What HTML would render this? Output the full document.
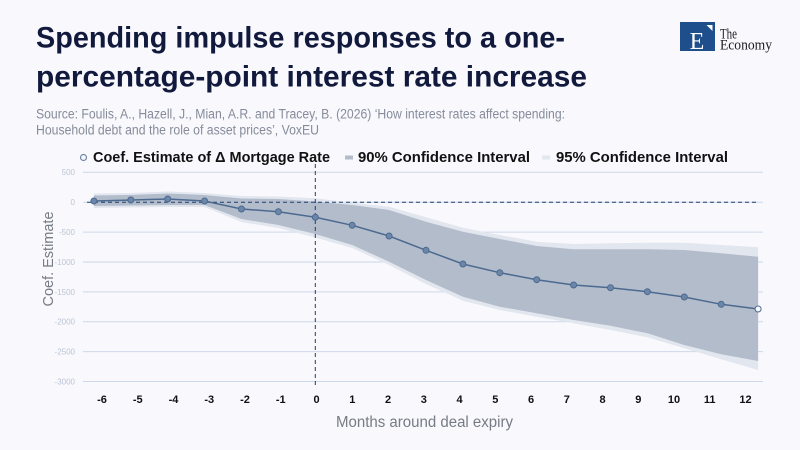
<!DOCTYPE html>
<html>
<head>
<meta charset="utf-8">
<style>
  html,body{margin:0;padding:0;background:#f8f8fd;}
  svg{display:block;}
  text{font-family:"Liberation Sans", sans-serif;}
</style>
</head>
<body>
<svg width="800" height="450" viewBox="0 0 800 450" xmlns="http://www.w3.org/2000/svg">
  <rect x="0" y="0" width="800" height="450" fill="#f8f8fd"/>

  <!-- Title -->
  <text x="36" y="47.5" font-size="30" font-weight="bold" fill="#111a3d" textLength="529" lengthAdjust="spacingAndGlyphs">Spending impulse responses to a one-</text>
  <text x="36" y="86.5" font-size="30" font-weight="bold" fill="#111a3d" textLength="551" lengthAdjust="spacingAndGlyphs">percentage-point interest rate increase</text>

  <!-- Source -->
  <text x="36" y="118.5" font-size="13.5" fill="#868c9a" textLength="529" lengthAdjust="spacingAndGlyphs">Source: Foulis, A., Hazell, J., Mian, A.R. and Tracey, B. (2026) ‘How interest rates affect spending:</text>
  <text x="36" y="134.5" font-size="13.5" fill="#868c9a" textLength="283" lengthAdjust="spacingAndGlyphs">Household debt and the role of asset prices’, VoxEU</text>

  <!-- Logo -->
  <rect x="680" y="22" width="35" height="29" fill="#1f4e8c"/>
  <polygon points="706.5,25 712.5,25 712.5,31" fill="#ffffff"/>
  <text x="697" y="49" font-size="24" fill="#ffffff" text-anchor="middle" style="font-family:'Liberation Serif',serif;">E</text>
  <text x="720" y="38.3" font-size="15" fill="#1e1e1e" style="font-family:'Liberation Serif',serif;" textLength="17" lengthAdjust="spacingAndGlyphs">The</text>
  <text x="720" y="49.3" font-size="15" fill="#1e1e1e" style="font-family:'Liberation Serif',serif;" textLength="52" lengthAdjust="spacingAndGlyphs">Economy</text>

  <!-- Legend -->
  <circle cx="83.5" cy="157.5" r="3" fill="#f8f8fd" stroke="#6f86a6" stroke-width="1.2"/>
  <text x="93" y="162" font-size="15" font-weight="bold" fill="#111" textLength="237" lengthAdjust="spacingAndGlyphs">Coef. Estimate of Δ Mortgage Rate</text>
  <rect x="345" y="155.5" width="8" height="4" fill="#b3bccb"/>
  <text x="358" y="162" font-size="15" font-weight="bold" fill="#111" textLength="172" lengthAdjust="spacingAndGlyphs">90% Confidence Interval</text>
  <rect x="542" y="155.5" width="8" height="4" fill="#e2e6ee"/>
  <text x="556" y="162" font-size="15" font-weight="bold" fill="#111" textLength="172" lengthAdjust="spacingAndGlyphs">95% Confidence Interval</text>

  <!-- Grid lines -->
  <g stroke="#cdd8e8" stroke-width="1">
    <line x1="83" y1="172.3" x2="763" y2="172.3"/>
    <line x1="83" y1="202.2" x2="763" y2="202.2"/>
    <line x1="83" y1="232.1" x2="763" y2="232.1"/>
    <line x1="83" y1="262" x2="763" y2="262"/>
    <line x1="83" y1="291.9" x2="763" y2="291.9"/>
    <line x1="83" y1="321.7" x2="763" y2="321.7"/>
    <line x1="83" y1="351.6" x2="763" y2="351.6"/>
    <line x1="83" y1="381.5" x2="763" y2="381.5"/>
  </g>

  <!-- Y tick labels -->
  <g font-size="8" fill="#bcc5d4" text-anchor="end">
    <text x="75" y="175">500</text>
    <text x="75" y="205">0</text>
    <text x="75" y="235">-500</text>
    <text x="75" y="265">-1000</text>
    <text x="75" y="295">-1500</text>
    <text x="75" y="324.5">-2000</text>
    <text x="75" y="354.5">-2500</text>
    <text x="75" y="384.5">-3000</text>
  </g>

  <!-- Y axis title -->
  <text transform="translate(53,259) rotate(-90)" font-size="15" fill="#777b84" text-anchor="middle" textLength="95" lengthAdjust="spacingAndGlyphs">Coef. Estimate</text>

  <!-- 95% band -->
  <polygon fill="#e2e6ee" points="
    93.9,193.5 130.8,193 167.7,191.5 204.6,193 241.5,196 278.4,196.5 315.3,198.3 352.2,202.7 389.1,206.7 426,217.3 462.9,227.7 499.8,235 536.7,241.7 573.6,244 610.5,243.3 647.4,242.7 684.3,242.7 721.2,245 758.1,247.3
    758.1,370 721.2,359.3 684.3,348.3 647.4,337.3 610.5,330 573.6,323.3 536.7,316.7 499.8,310 462.9,300.7 426,284 389.1,265 352.2,248 315.3,237.5 278.4,228 241.5,222 204.6,207 167.7,207 130.8,207.5 93.9,208"/>

  <!-- 90% band -->
  <polygon fill="#b3bccb" points="
    93.9,195.5 130.8,195 167.7,193.5 204.6,195 241.5,198.5 278.4,199 315.3,201.5 352.2,205 389.1,210 426,221.7 462.9,231.7 499.8,239 536.7,246 573.6,249.3 610.5,249.3 647.4,249.3 684.3,250 721.2,253.3 758.1,256.7
    758.1,361 721.2,354.3 684.3,345 647.4,333.3 610.5,325.7 573.6,320 536.7,313.3 499.8,306.7 462.9,296.7 426,280 389.1,261.7 352.2,245 315.3,234 278.4,225 241.5,219 204.6,205 167.7,205 130.8,205.5 93.9,206"/>

  <!-- Zero dashed line -->
  <line x1="87" y1="202.3" x2="757" y2="202.3" stroke="#1f3f6e" stroke-width="1" stroke-dasharray="4,3"/>
  <!-- Vertical dashed line at 0 -->
  <line x1="315.3" y1="164" x2="315.3" y2="385" stroke="#1f3f6e" stroke-width="1" stroke-dasharray="4,3"/>

  <!-- Estimate line -->
  <polyline fill="none" stroke="#4c6a8f" stroke-width="1.5" points="
    93.9,201 130.8,200 167.7,199 204.6,201 241.5,209 278.4,211.7 315.3,217.3 352.2,225.3 389.1,236 426,250.3 462.9,264 499.8,272.7 536.7,279.7 573.6,285 610.5,287.7 647.4,291.7 684.3,297 721.2,304.3 758.1,309"/>
  <g fill="#6b86a8" stroke="#4c6a8f" stroke-width="1">
    <circle cx="93.9" cy="201" r="3"/>
    <circle cx="130.8" cy="200" r="3"/>
    <circle cx="167.7" cy="199" r="3"/>
    <circle cx="204.6" cy="201" r="3"/>
    <circle cx="241.5" cy="209" r="3"/>
    <circle cx="278.4" cy="211.7" r="3"/>
    <circle cx="315.3" cy="217.3" r="3"/>
    <circle cx="352.2" cy="225.3" r="3"/>
    <circle cx="389.1" cy="236" r="3"/>
    <circle cx="426" cy="250.3" r="3"/>
    <circle cx="462.9" cy="264" r="3"/>
    <circle cx="499.8" cy="272.7" r="3"/>
    <circle cx="536.7" cy="279.7" r="3"/>
    <circle cx="573.6" cy="285" r="3"/>
    <circle cx="610.5" cy="287.7" r="3"/>
    <circle cx="647.4" cy="291.7" r="3"/>
    <circle cx="684.3" cy="297" r="3"/>
    <circle cx="721.2" cy="304.3" r="3"/>
  </g>
  <circle cx="758.1" cy="309" r="3" fill="#f8f8fd" stroke="#4c6a8f" stroke-width="1"/>

  <!-- X tick labels -->
  <g font-size="11" font-weight="bold" fill="#111" text-anchor="middle">
    <text x="102" y="403">-6</text>
    <text x="137.75" y="403">-5</text>
    <text x="173.5" y="403">-4</text>
    <text x="209.25" y="403">-3</text>
    <text x="245" y="403">-2</text>
    <text x="280.75" y="403">-1</text>
    <text x="316.5" y="403">0</text>
    <text x="352.25" y="403">1</text>
    <text x="388" y="403">2</text>
    <text x="423.75" y="403">3</text>
    <text x="459.5" y="403">4</text>
    <text x="495.25" y="403">5</text>
    <text x="531" y="403">6</text>
    <text x="566.75" y="403">7</text>
    <text x="602.5" y="403">8</text>
    <text x="638.25" y="403">9</text>
    <text x="674" y="403">10</text>
    <text x="709.75" y="403">11</text>
    <text x="745.5" y="403">12</text>
  </g>

  <!-- X axis title -->
  <text x="336" y="427" font-size="15.5" fill="#777b84" textLength="177" lengthAdjust="spacingAndGlyphs">Months around deal expiry</text>
</svg>
</body>
</html>
